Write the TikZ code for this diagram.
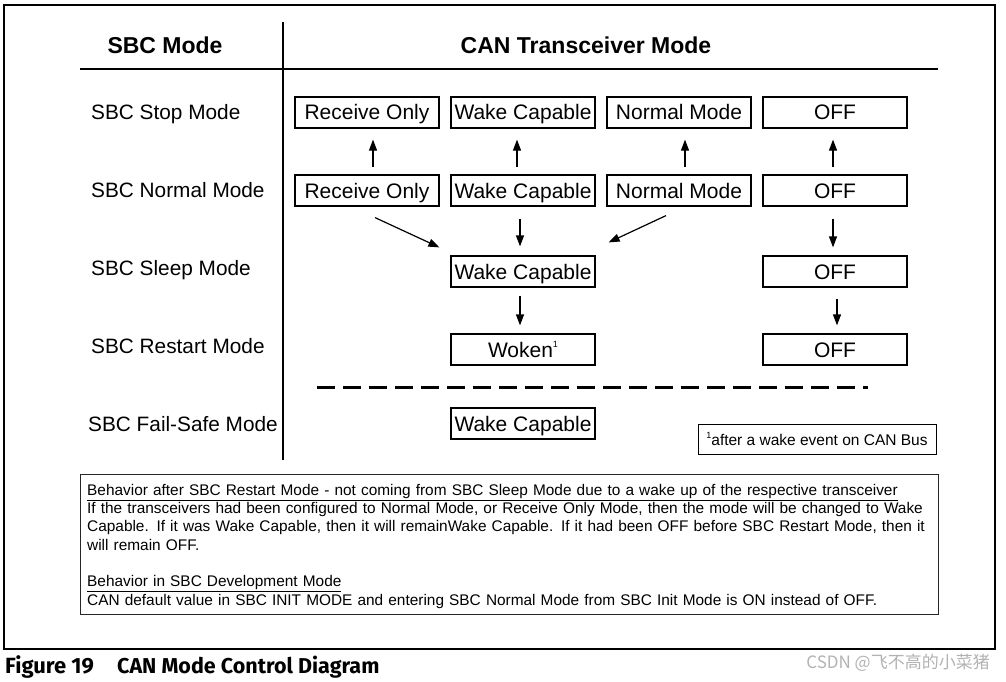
\documentclass[tikz,border=0pt]{standalone}
\usepackage{fontspec}
\setmainfont{Liberation Sans}
\newfontfamily\capfont{Fira Sans}
\newfontfamily\cjkfont{Noto Sans CJK SC}
\usetikzlibrary{arrows.meta}
\newcommand{\footmark}{\raisebox{0.45em}{\fontsize{9}{9}\selectfont 1}}

\begin{document}
\begin{tikzpicture}[x=1pt,y=-1pt,
  modebox/.style={draw=black,line width=1.2pt,minimum width=144pt,minimum height=31pt,inner sep=0pt,text height=15pt,text depth=0pt,font=\fontsize{21}{24}\selectfont},
  rowlabel/.style={anchor=west,inner sep=0pt,text height=15pt,text depth=0pt,font=\fontsize{20.8}{24}\selectfont},
  headtext/.style={inner sep=0pt,text height=16.5pt,text depth=0pt,font=\fontsize{23}{28}\selectfont\bfseries},
  captext/.style={anchor=base west,inner sep=0pt,font=\capfont\bfseries\fontsize{22}{26}\selectfont},
  arr/.style={line width=1.2pt,-{Triangle[length=11pt,width=8pt]}}]
\useasboundingbox (0,0) rectangle (1006,682);
\draw[line width=1.5pt] (4,5) rectangle (995,649);
\draw[line width=1.5pt] (283,22) -- (283,460);
\draw[line width=1.5pt] (80,69) -- (938,69);
\node[headtext] (sbchead) at (165,45) {SBC Mode};
\node[headtext] (canhead) at (586,45) {CAN Transceiver Mode};

\node[rowlabel] (stop) at (91,112) {SBC Stop Mode};
\node[rowlabel] (normal) at (91,190) {SBC Normal Mode};
\node[rowlabel] (sleep) at (91,268) {SBC Sleep Mode};
\node[rowlabel] (restart) at (91,346) {SBC Restart Mode};
\node[rowlabel] (failsafe) at (88,424) {SBC Fail-Safe Mode};

\node[modebox] (stopro) at (367,112.5) {Receive Only};
\node[modebox] (stopwc) at (523,112.5) {Wake Capable};
\node[modebox] (stopnm) at (679,112.5) {Normal Mode};
\node[modebox] (stopoff) at (835,112.5) {OFF};
\node[modebox] (normro) at (367,190.5) {Receive Only};
\node[modebox] (normwc) at (523,190.5) {Wake Capable};
\node[modebox] (normnm) at (679,190.5) {Normal Mode};
\node[modebox] (normoff) at (835,190.5) {OFF};
\node[modebox] (sleepwc) at (523,271.5) {Wake Capable};
\node[modebox] (sleepoff) at (835,271.5) {OFF};
\node[modebox] (restartwk) at (523,349.5) {Woken\footmark};
\node[modebox] (restartoff) at (835,349.5) {OFF};
\node[modebox] (failwc) at (523,423.5) {Wake Capable};

\draw[arr] ([xshift=6pt,yshift=7pt]normro.north) -- ([xshift=6pt,yshift=-11pt]stopro.south);
\draw[arr] ([xshift=-6pt,yshift=7pt]normwc.north) -- ([xshift=-6pt,yshift=-11pt]stopwc.south);
\draw[arr] ([xshift=6pt,yshift=7pt]normnm.north) -- ([xshift=6pt,yshift=-11pt]stopnm.south);
\draw[arr] ([xshift=-2pt,yshift=7pt]normoff.north) -- ([xshift=-2pt,yshift=-11pt]stopoff.south);

\draw[arr] ([xshift=8pt,yshift=-11pt]normro.south) -- ([xshift=-11pt,yshift=8pt]sleepwc.north west);
\draw[arr] ([xshift=-3pt,yshift=-12pt]normwc.south) -- ([xshift=-3pt,yshift=9pt]sleepwc.north);
\draw[arr] ([xshift=-13pt,yshift=-9pt]normnm.south) -- ([xshift=13pt,yshift=13pt]sleepwc.north east);
\draw[arr] ([xshift=-2pt,yshift=-12pt]normoff.south) -- ([xshift=-2pt,yshift=8pt]sleepoff.north);

\draw[arr] ([xshift=-3pt,yshift=-8pt]sleepwc.south) -- ([xshift=-3pt,yshift=8pt]restartwk.north);
\draw[arr] ([xshift=2pt,yshift=-11pt]sleepoff.south) -- ([xshift=2pt,yshift=8pt]restartoff.north);

\draw[line width=3pt,dash pattern=on 18pt off 8pt] (317,387) -- (868,387);

\node[draw,line width=1pt,minimum width=238pt,minimum height=30pt,inner sep=0pt,font=\fontsize{15.5}{18}\selectfont] (footnote) at (817,439) {\footmark after a wake event on CAN Bus};

\draw[line width=1pt,draw=black!85] (80,474) rectangle (938,614);
\node[anchor=north west,text width=844pt,inner sep=0pt,align=left,font=\fontsize{15.4}{18.3}\selectfont] (notes) at (87,484) {\underline{Behavior after SBC Restart Mode - not coming from SBC Sleep Mode due to a wake up of the respective transceiver}\\
If the transceivers had been configured to Normal Mode, or Receive Only Mode, then the mode will be changed to Wake\\
Capable. If it was Wake Capable, then it will remainWake Capable. If it had been OFF before SBC Restart Mode, then it\\
will remain OFF.\\[18.3pt]
\underline{Behavior in SBC Development Mode}\\
CAN default value in SBC INIT MODE and entering SBC Normal Mode from SBC Init Mode is ON instead of OFF.};

\node[captext] (figno) at (5,673) {Figure 19};
\node[captext,font=\capfont\bfseries\fontsize{21.5}{26}\selectfont] (figtitle) at (117,673) {CAN Mode Control Diagram};
\node[anchor=east,inner sep=0pt,text=gray!60,font=\cjkfont\fontsize{17}{20}\selectfont] (watermark) at (990,663) {CSDN @飞不高的小菜猪};
\end{tikzpicture}
\end{document}
